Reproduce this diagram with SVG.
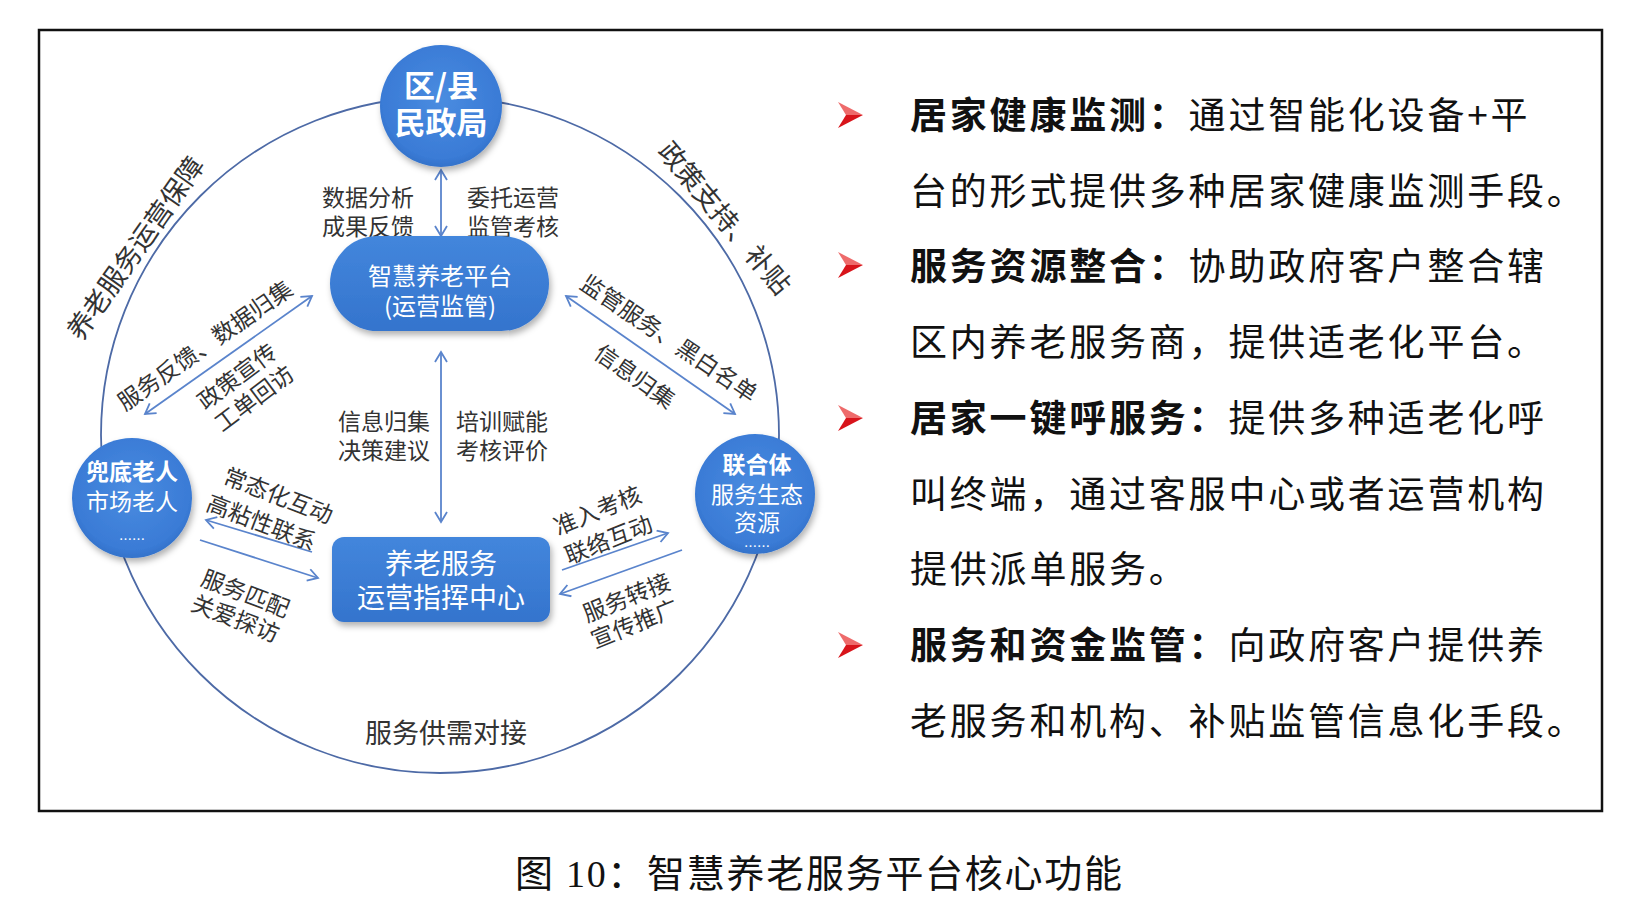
<svg xmlns="http://www.w3.org/2000/svg" width="1626" height="913" viewBox="0 0 1626 913">
<defs>
<style>
.lbl{font-family:"Noto Sans CJK SC","Noto Sans",sans-serif;font-size:23px;fill:#333;text-anchor:middle;dominant-baseline:central}
.arc{font-family:"Noto Sans CJK SC","Noto Sans",sans-serif;font-size:27px;fill:#333;text-anchor:middle;dominant-baseline:central}
.nt{font-family:"Noto Sans CJK SC","Noto Sans",sans-serif;fill:#fff;text-anchor:middle;dominant-baseline:central}
.conn{stroke:#5a84cc;stroke-width:1.8;fill:none}
.body{font-family:"Noto Sans CJK SC","Noto Sans",sans-serif;font-size:37px;fill:#111;letter-spacing:2.8px}
.bullet-hi{fill:#ee6b6b}
.bullet-lo{fill:#d8141b}
</style>
<radialGradient id="gNode" cx="50%" cy="45%" r="60%">
<stop offset="0" stop-color="#4a8ce0"/>
<stop offset="0.8" stop-color="#3a7bd6"/>
<stop offset="1" stop-color="#2f6cc2"/>
</radialGradient>
<linearGradient id="gBox" x1="0" y1="0" x2="0" y2="1">
<stop offset="0" stop-color="#4386dc"/>
<stop offset="1" stop-color="#3474cd"/>
</linearGradient>
<filter id="sh" x="-20%" y="-20%" width="140%" height="150%">
<feDropShadow dx="2" dy="4" stdDeviation="3" flood-color="#000" flood-opacity="0.3"/>
</filter>
<marker id="ah" viewBox="0 0 14 14" refX="12" refY="7" markerWidth="14" markerHeight="14" markerUnits="userSpaceOnUse" orient="auto-start-reverse">
<path d="M2,1 L12,7 L2,13" fill="none" stroke="#5a84cc" stroke-width="1.8"/>
</marker>
</defs>
<rect width="1626" height="913" fill="#fff"/>
<rect x="39" y="30" width="1563" height="781" fill="none" stroke="#111" stroke-width="2.5"/>

<g id="ring">
<ellipse cx="440" cy="435" rx="339" ry="338" fill="none" stroke="#4d6aa6" stroke-width="1.8"/>
</g>

<g id="connectors">
<line class="conn" x1="441" y1="170" x2="441" y2="236" marker-start="url(#ah)" marker-end="url(#ah)"/>
<line class="conn" x1="441" y1="352" x2="441" y2="522" marker-start="url(#ah)" marker-end="url(#ah)"/>
<line class="conn" x1="312" y1="296" x2="145" y2="414" marker-start="url(#ah)" marker-end="url(#ah)"/>
<line class="conn" x1="566" y1="296" x2="735" y2="414" marker-start="url(#ah)" marker-end="url(#ah)"/>
<line class="conn" x1="312" y1="552" x2="206" y2="520" marker-end="url(#ah)"/>
<line class="conn" x1="200" y1="540" x2="318" y2="578" marker-end="url(#ah)"/>
<line class="conn" x1="562" y1="570" x2="668" y2="533" marker-end="url(#ah)"/>
<line class="conn" x1="682" y1="550" x2="560" y2="594" marker-end="url(#ah)"/>
</g>

<g id="labels">
<text class="arc" transform="translate(134,247) rotate(-55)">养老服务运营保障</text>
<text class="arc" transform="translate(726,217) rotate(50)">政策支持、补贴</text>
<text class="lbl" x="368" y="196">数据分析</text>
<text class="lbl" x="368" y="225">成果反馈</text>
<text class="lbl" x="513" y="196">委托运营</text>
<text class="lbl" x="513" y="225">监管考核</text>
<text class="lbl" x="384" y="420">信息归集</text>
<text class="lbl" x="384" y="449">决策建议</text>
<text class="lbl" x="502" y="420">培训赋能</text>
<text class="lbl" x="502" y="449">考核评价</text>
<text class="lbl" transform="translate(204,344) rotate(-35)">服务反馈、数据归集</text>
<text class="lbl" transform="translate(236,375) rotate(-37)">政策宣传</text>
<text class="lbl" transform="translate(253,397) rotate(-37)">工单回访</text>
<text class="lbl" transform="translate(670,337) rotate(34)">监管服务、黑白名单</text>
<text class="lbl" transform="translate(636,375) rotate(35)">信息归集</text>
<text class="lbl" transform="translate(279,494) rotate(21)">常态化互动</text>
<text class="lbl" transform="translate(262,521) rotate(21)">高粘性联系</text>
<text class="lbl" transform="translate(246,592) rotate(21)">服务匹配</text>
<text class="lbl" transform="translate(236,617) rotate(21)">关爱探访</text>
<text class="lbl" transform="translate(597,509) rotate(-22)">准入考核</text>
<text class="lbl" transform="translate(608,538) rotate(-22)">联络互动</text>
<text class="lbl" transform="translate(626,596) rotate(-22)">服务转接</text>
<text class="lbl" transform="translate(634,622) rotate(-22)">宣传推广</text>
<text class="arc" x="446" y="731">服务供需对接</text>
</g>

<g id="node-mzj">
<circle cx="441" cy="106" r="61" fill="url(#gNode)" filter="url(#sh)"/>
<text class="nt" x="441" y="83" font-size="31" font-weight="700">区/县</text>
<text class="nt" x="441" y="120" font-size="31" font-weight="700">民政局</text>
</g>

<g id="node-platform">
<rect x="330" y="236" width="219" height="95" rx="47.5" fill="url(#gBox)" filter="url(#sh)"/>
<text class="nt" x="440" y="274" font-size="24">智慧养老平台</text>
<text class="nt" x="440" y="304" font-size="24">(运营监管)</text>
</g>

<g id="node-center">
<rect x="332" y="537" width="218" height="85" rx="12" fill="url(#gBox)" filter="url(#sh)"/>
<text class="nt" x="441" y="562" font-size="28">养老服务</text>
<text class="nt" x="441" y="596" font-size="28">运营指挥中心</text>
</g>

<g id="node-elder">
<circle cx="132" cy="498" r="60" fill="url(#gNode)" filter="url(#sh)"/>
<text class="nt" x="132" y="470" font-size="23" font-weight="700">兜底老人</text>
<text class="nt" x="132" y="500" font-size="23">市场老人</text>
<text class="nt" x="132" y="538" font-size="13">……</text>
</g>

<g id="node-union">
<circle cx="755" cy="494" r="60" fill="url(#gNode)" filter="url(#sh)"/>
<text class="nt" x="757" y="463" font-size="23" font-weight="700">联合体</text>
<text class="nt" x="757" y="493" font-size="23">服务生态</text>
<text class="nt" x="757" y="521" font-size="23">资源</text>
<text class="nt" x="757" y="545" font-size="13">……</text>
</g>

<g id="panel">
<g id="bullets">
<g transform="translate(838,102)"><polygon class="bullet-hi" points="0,0 25,13 8,13"/><polygon class="bullet-lo" points="8,13 25,13 0,26"/></g>
<g transform="translate(838,252)"><polygon class="bullet-hi" points="0,0 25,13 8,13"/><polygon class="bullet-lo" points="8,13 25,13 0,26"/></g>
<g transform="translate(838,405)"><polygon class="bullet-hi" points="0,0 25,13 8,13"/><polygon class="bullet-lo" points="8,13 25,13 0,26"/></g>
<g transform="translate(838,632)"><polygon class="bullet-hi" points="0,0 25,13 8,13"/><polygon class="bullet-lo" points="8,13 25,13 0,26"/></g>
</g>
<text class="body" x="910" y="129"><tspan font-weight="700">居家健康监测：</tspan>通过智能化设备+平</text>
<text class="body" x="910" y="205">台的形式提供多种居家健康监测手段。</text>
<text class="body" x="910" y="280"><tspan font-weight="700">服务资源整合：</tspan>协助政府客户整合辖</text>
<text class="body" x="910" y="356">区内养老服务商，提供适老化平台。</text>
<text class="body" x="910" y="432"><tspan font-weight="700">居家一键呼服务：</tspan>提供多种适老化呼</text>
<text class="body" x="910" y="508">叫终端，通过客服中心或者运营机构</text>
<text class="body" x="910" y="583">提供派单服务。</text>
<text class="body" x="910" y="659"><tspan font-weight="700">服务和资金监管：</tspan>向政府客户提供养</text>
<text class="body" x="910" y="735">老服务和机构、补贴监管信息化手段。</text>
</g>

<text x="515" y="887" font-family="'Liberation Serif','Noto Sans CJK SC',serif" font-size="38" fill="#111" textLength="607" lengthAdjust="spacing">图 10：智慧养老服务平台核心功能</text>
</svg>
